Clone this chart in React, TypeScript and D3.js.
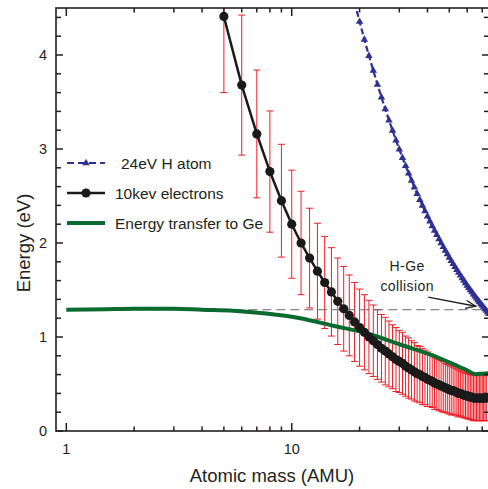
import * as d3 from "d3";
import { useEffect, useRef } from "react";

const W = 488;
const H = 489;
const plot = { left: 56, right: 489, top: 8, bottom: 431 };
const FONT = "'Liberation Sans', Arial, sans-serif";

// 10 keV electrons (mean energy transfer with spread)
const electronMass = [
  5, 6, 7, 8, 9, 10, 11, 12, 13, 14, 15, 16, 17, 18, 19, 20, 21, 22, 23, 24,
  25, 26, 27, 28, 29, 30, 31, 32, 33, 34, 35, 36, 37, 38, 39, 40, 41, 42, 43,
  44, 45, 46, 47, 48, 49, 50, 51, 52, 53, 54, 55, 56, 57, 58, 59, 60, 61, 62,
  63, 64, 65, 66, 67, 68, 69, 70, 71, 72, 73,
];
const electronEnergy = [
  4.41, 3.68, 3.16, 2.76, 2.45, 2.2, 2.0, 1.84, 1.7, 1.58, 1.48, 1.38, 1.3,
  1.23, 1.16, 1.1, 1.05, 1.0, 0.96, 0.92, 0.88, 0.85, 0.82, 0.79, 0.76, 0.74,
  0.72, 0.69, 0.67, 0.65, 0.63, 0.61, 0.6, 0.58, 0.57, 0.55, 0.54, 0.53, 0.51,
  0.5, 0.49, 0.48, 0.47, 0.46, 0.45, 0.44, 0.43, 0.43, 0.42, 0.41, 0.4, 0.4,
  0.39, 0.38, 0.38, 0.37, 0.37, 0.36, 0.36, 0.35, 0.35, 0.35, 0.35, 0.35, 0.35,
  0.35, 0.35, 0.35, 0.35,
];
const electronErr = [
  0.81, 0.745, 0.68, 0.645, 0.6, 0.575, 0.55, 0.53, 0.51, 0.49, 0.47, 0.46,
  0.45, 0.43, 0.42, 0.41, 0.4, 0.39, 0.38, 0.37, 0.36, 0.36, 0.35, 0.34, 0.34,
  0.33, 0.33, 0.32, 0.32, 0.31, 0.31, 0.3, 0.3, 0.3, 0.29, 0.29, 0.28, 0.28,
  0.28, 0.27, 0.27, 0.27, 0.27, 0.26, 0.26, 0.26, 0.26, 0.25, 0.25, 0.25, 0.25,
  0.24, 0.24, 0.24, 0.24, 0.24, 0.24, 0.24, 0.24, 0.24, 0.24, 0.24, 0.24, 0.24,
  0.24, 0.24, 0.24, 0.24, 0.24,
];

// 24 eV H atom
const hMass = [
  19, 20, 21, 22, 23, 24, 25, 26, 27, 28, 29, 30, 31, 32, 33, 34, 35, 36, 37,
  38, 39, 40, 41, 42, 43, 44, 45, 46, 47, 48, 49, 50, 51, 52, 53, 54, 55, 56,
  57, 58, 59, 60, 61, 62, 63, 64, 65, 66, 67, 68, 69, 70, 71, 72, 73, 74, 75,
];
const hEnergy = [
  4.56, 4.354, 4.165, 3.992, 3.833, 3.686, 3.55, 3.424, 3.306, 3.196, 3.093,
  2.997, 2.906, 2.821, 2.74, 2.664, 2.593, 2.524, 2.46, 2.398, 2.34, 2.284,
  2.231, 2.181, 2.132, 2.086, 2.042, 1.999, 1.958, 1.919, 1.882, 1.845, 1.811,
  1.777, 1.745, 1.714, 1.684, 1.655, 1.627, 1.6, 1.573, 1.548, 1.523, 1.5,
  1.477, 1.454, 1.433, 1.411, 1.391, 1.371, 1.352, 1.333, 1.315, 1.297, 1.28,
  1.263, 1.247,
];

// Energy transfer to Ge
const geMass = [1, 1.5, 2, 3, 4, 5.5, 7.7, 10.9, 15.3, 21.5, 30.2, 42.7, 50, 60, 65.3, 70, 75];
const geEnergy = [1.29, 1.296, 1.3, 1.3, 1.29, 1.28, 1.25, 1.2, 1.12, 1.04, 0.92, 0.8, 0.73, 0.645, 0.605, 0.61, 0.615];

const collisionLevel = 1.29;

const xMajor = [1, 10];
const xMinor = [2, 3, 4, 5, 6, 7, 8, 9, 20, 30, 40, 50, 60, 70];
const yMajor = [0, 1, 2, 3, 4];
const yMinor = [
  0.2, 0.4, 0.6, 0.8, 1.2, 1.4, 1.6, 1.8, 2.2, 2.4, 2.6, 2.8, 3.2, 3.4, 3.6,
  3.8, 4.2, 4.4,
];

const legendItems = ["24eV H atom", "10kev electrons", "Energy transfer to Ge"];

const BLUE = "#2e3192";
const GREEN = "#0b6a2f";
const RED = "#ee1c25";
const INK = "#231f20";

export default function App() {
  const svgRef = useRef<SVGSVGElement | null>(null);

  useEffect(() => {
    document.body.style.margin = "0";
    const svg = d3.select(svgRef.current);
    svg.selectAll("*").remove();

    const x = d3.scaleLog().domain([0.9, 75]).range([plot.left, plot.right]);
    const y = d3.scaleLinear().domain([0, 4.5]).range([plot.bottom, plot.top]);

    const defs = svg.append("defs");
    defs
      .append("clipPath")
      .attr("id", "plotClip")
      .append("rect")
      .attr("x", plot.left)
      .attr("y", plot.top)
      .attr("width", plot.right - plot.left)
      .attr("height", plot.bottom - plot.top);
    defs
      .append("marker")
      .attr("id", "arrowHead")
      .attr("viewBox", "0 0 12 10")
      .attr("refX", 11)
      .attr("refY", 5)
      .attr("markerWidth", 12)
      .attr("markerHeight", 10)
      .attr("markerUnits", "userSpaceOnUse")
      .attr("orient", "auto")
      .append("path")
      .attr("d", "M1,1 L11,5 L1,9")
      .attr("fill", "none")
      .attr("stroke", INK)
      .attr("stroke-width", 1.3);

    const g = svg.append("g").attr("clip-path", "url(#plotClip)");

    const electrons = electronMass.map((m, i) => ({
      m,
      e: electronEnergy[i],
      err: electronErr[i],
    }));

    // error bars
    const bars = g.append("g").attr("stroke", RED).attr("stroke-width", 1);
    electrons.forEach((d) => {
      const px = x(d.m);
      const y0 = y(d.e - d.err);
      const y1 = y(d.e + d.err);
      bars.append("line").attr("x1", px).attr("x2", px).attr("y1", y0).attr("y2", y1);
      bars.append("line").attr("x1", px - 3.5).attr("x2", px + 3.5).attr("y1", y0).attr("y2", y0);
      bars.append("line").attr("x1", px - 3.5).attr("x2", px + 3.5).attr("y1", y1).attr("y2", y1);
    });

    // collision reference level
    g.append("line")
      .attr("x1", x(1))
      .attr("x2", plot.right)
      .attr("y1", y(collisionLevel))
      .attr("y2", y(collisionLevel))
      .attr("stroke", "#666")
      .attr("stroke-width", 1)
      .attr("stroke-dasharray", "9,5");

    // Ge transfer curve
    const geLine = d3
      .line<number>()
      .x((_, i) => x(geMass[i]))
      .y((d) => y(d))
      .curve(d3.curveMonotoneX);
    g.append("path")
      .attr("d", geLine(geEnergy))
      .attr("fill", "none")
      .attr("stroke", GREEN)
      .attr("stroke-width", 4);

    // electrons
    const eLine = d3
      .line<{ m: number; e: number }>()
      .x((d) => x(d.m))
      .y((d) => y(d.e));
    g.append("path")
      .attr("d", eLine(electrons))
      .attr("fill", "none")
      .attr("stroke", "#1a1a1a")
      .attr("stroke-width", 2.5);
    g.append("g")
      .selectAll("circle")
      .data(electrons)
      .join("circle")
      .attr("cx", (d) => x(d.m))
      .attr("cy", (d) => y(d.e))
      .attr("r", 4.6)
      .attr("fill", "#1a1a1a");

    // H atom
    const hLine = d3
      .line<number>()
      .x((_, i) => x(hMass[i]))
      .y((d) => y(d));
    g.append("path")
      .attr("d", hLine(hEnergy))
      .attr("fill", "none")
      .attr("stroke", BLUE)
      .attr("stroke-width", 2.2)
      .attr("stroke-dasharray", "6,3");
    const tri = d3.symbol().type(d3.symbolTriangle).size(24);
    g.append("g")
      .selectAll("path")
      .data(hEnergy)
      .join("path")
      .attr("d", tri)
      .attr("transform", (d, i) => `translate(${x(hMass[i])},${y(d)})`)
      .attr("fill", BLUE);

    // frame
    svg
      .append("rect")
      .attr("x", plot.left)
      .attr("y", plot.top)
      .attr("width", plot.right - plot.left)
      .attr("height", plot.bottom - plot.top)
      .attr("fill", "none")
      .attr("stroke", INK)
      .attr("stroke-width", 1.6);

    // ticks (inward, all four sides)
    const ticks = svg.append("g").attr("stroke", INK).attr("stroke-width", 1.5);
    const xTick = (v: number, len: number) => {
      ticks.append("line").attr("x1", x(v)).attr("x2", x(v)).attr("y1", plot.bottom).attr("y2", plot.bottom - len);
      ticks.append("line").attr("x1", x(v)).attr("x2", x(v)).attr("y1", plot.top).attr("y2", plot.top + len);
    };
    const yTick = (v: number, len: number) => {
      ticks.append("line").attr("x1", plot.left).attr("x2", plot.left + len).attr("y1", y(v)).attr("y2", y(v));
      ticks.append("line").attr("x1", plot.right).attr("x2", plot.right - len).attr("y1", y(v)).attr("y2", y(v));
    };
    xMajor.forEach((v) => xTick(v, 8));
    xMinor.forEach((v) => xTick(v, 4.5));
    yMajor.forEach((v) => yTick(v, 7));
    yMinor.forEach((v) => yTick(v, 5));

    const labels = svg.append("g").attr("font-family", FONT).attr("fill", INK);
    labels
      .selectAll(".xl")
      .data(xMajor)
      .join("text")
      .attr("x", (d) => x(d))
      .attr("y", 454)
      .attr("text-anchor", "middle")
      .attr("font-size", 14.5)
      .text((d) => d);
    labels
      .selectAll(".yl")
      .data(yMajor)
      .join("text")
      .attr("x", 47)
      .attr("y", (d) => y(d) + 5)
      .attr("text-anchor", "end")
      .attr("font-size", 14.5)
      .text((d) => d);

    labels
      .append("text")
      .attr("x", (plot.left + W) / 2)
      .attr("y", 482)
      .attr("text-anchor", "middle")
      .attr("font-size", 18.5)
      .text("Atomic mass (AMU)");
    labels
      .append("text")
      .attr("transform", `translate(30,${y(2.0)}) rotate(-90)`)
      .attr("text-anchor", "middle")
      .attr("font-size", 18.5)
      .text("Energy (eV)");

    // annotation
    labels
      .append("text")
      .attr("x", x(32.5))
      .attr("y", y(1.7))
      .attr("text-anchor", "middle")
      .attr("font-size", 14)
      .attr("letter-spacing", 0.4)
      .text("H-Ge");
    labels
      .append("text")
      .attr("x", x(32.5))
      .attr("y", y(1.49))
      .attr("text-anchor", "middle")
      .attr("font-size", 14)
      .attr("letter-spacing", 0.4)
      .text("collision");
    svg
      .append("line")
      .attr("x1", x(40.3))
      .attr("y1", y(1.425))
      .attr("x2", x(65.5))
      .attr("y2", y(1.327))
      .attr("stroke", INK)
      .attr("stroke-width", 1.3)
      .attr("marker-end", "url(#arrowHead)");

    // legend
    const legend = svg.append("g").attr("font-family", FONT);
    const rowY = [163, 193, 223];
    const lx0 = 67;
    const lx1 = 105;
    legend
      .append("line")
      .attr("x1", lx0)
      .attr("x2", lx1)
      .attr("y1", rowY[0])
      .attr("y2", rowY[0])
      .attr("stroke", BLUE)
      .attr("stroke-width", 2.2)
      .attr("stroke-dasharray", "7,4");
    legend
      .append("path")
      .attr("d", tri)
      .attr("transform", `translate(${(lx0 + lx1) / 2},${rowY[0]})`)
      .attr("fill", BLUE);
    legend
      .append("line")
      .attr("x1", lx0)
      .attr("x2", lx1)
      .attr("y1", rowY[1])
      .attr("y2", rowY[1])
      .attr("stroke", "#1a1a1a")
      .attr("stroke-width", 2.5);
    legend
      .append("circle")
      .attr("cx", (lx0 + lx1) / 2)
      .attr("cy", rowY[1])
      .attr("r", 4.6)
      .attr("fill", "#1a1a1a");
    legend
      .append("line")
      .attr("x1", lx0)
      .attr("x2", lx1)
      .attr("y1", rowY[2])
      .attr("y2", rowY[2])
      .attr("stroke", GREEN)
      .attr("stroke-width", 4);
    legend
      .selectAll("text")
      .data(legendItems)
      .join("text")
      .attr("x", (_, i) => (i === 0 ? 121 : 115))
      .attr("y", (_, i) => rowY[i] + 5.5)
      .attr("font-size", 15.5)
      .attr("fill", INK)
      .text((d) => d);
  }, []);

  return <svg ref={svgRef} width={W} height={H} style={{ display: "block", background: "#fff" }} />;
}
